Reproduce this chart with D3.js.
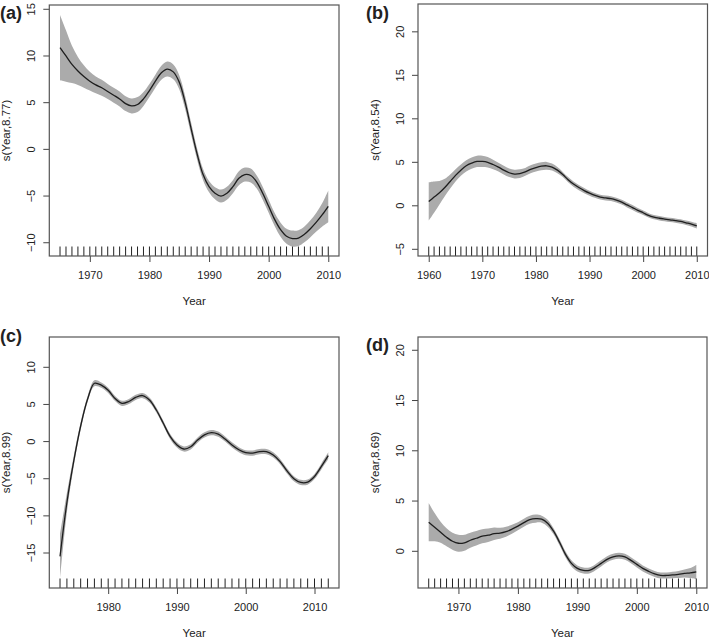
<!DOCTYPE html>
<html>
<head>
<meta charset="utf-8">
<script src="https://cdn.jsdelivr.net/npm/d3@7"></script>
<style>
  html, body { margin: 0; padding: 0; background: #fff; }
  svg { display: block; }
  text { font-family: "Liberation Sans", Arial, Helvetica, sans-serif; fill: #222; }
</style>
</head>
<body>
<svg id="chart" width="709" height="638"></svg>
<script>
// ---------------- DATA ----------------
const panelLetters = ["(a)", "(b)", "(c)", "(d)"];
const yTitles = ["s(Year,8.77)", "s(Year,8.54)", "s(Year,8.99)", "s(Year,8.69)"];

const yearsA = d3.range(1965, 2011);
const fitA = [10.9,10.0,9.1,8.4,7.8, 7.3,6.9,6.6,6.2,5.8,5.4,4.9,4.65,4.8,5.4,
  6.3,7.3,8.2,8.6,8.3,7.2,5.0,2.2,-0.5,-2.7, -4.0,-4.7,-5.0,-4.7,-4.0,-3.1,-2.7,-2.8,-3.5,-4.7,
  -6.1,-7.5,-8.6,-9.3,-9.55,-9.5,-9.1,-8.5,-7.8,-7.0, -6.1];
const ciA = [3.5,2.75,2.0,1.5,1.2, 1.0,0.9,0.85,0.8,0.8,0.8,0.8,0.8,0.8,0.75,
  0.7,0.7,0.75,0.8,0.8,0.75,0.7,0.65,0.6,0.6, 0.6,0.65,0.7,0.7,0.7,0.75,0.75,0.75,0.7,0.7,
  0.7,0.7,0.75,0.8,0.85,0.85,0.85,0.9,1.0,1.25, 1.7];

const yearsB = d3.range(1960, 2011);
const fitB = [0.5,1.0,1.5,2.1,2.8,3.5,4.1,4.6,4.9,5.1,
  5.1,5.0,4.75,4.45,4.1,3.8,3.65,3.7,3.9,4.2,
  4.4,4.55,4.6,4.45,4.1,3.6,3.0,2.5,2.1,1.75,
  1.45,1.2,1.0,0.9,0.82,0.65,0.42,0.1,-0.2,-0.52,
  -0.8,-1.1,-1.3,-1.43,-1.53,-1.62,-1.7,-1.8,-1.95,-2.1,
  -2.3];
const ciB = [2.2,1.8,1.35,1.0,0.8,0.7,0.65,0.65,0.65,0.65,
  0.65,0.6,0.55,0.5,0.5,0.5,0.5,0.5,0.45,0.45,
  0.45,0.45,0.45,0.4,0.35,0.3,0.3,0.3,0.3,0.3,
  0.28,0.28,0.28,0.28,0.28,0.28,0.28,0.28,0.28,0.28,
  0.25,0.25,0.25,0.25,0.25,0.25,0.25,0.25,0.25,0.27,
  0.3];

const yearsC = d3.range(1973, 2013);
const fitC = [-15.45,-8.2,-2.6,2.1,5.7,7.85,7.6,6.9,5.8,5.15,
  5.4,5.95,6.2,5.6,4.25,2.5,0.7,-0.45,-1.0,-0.7,
  0.2,0.9,1.2,1.0,0.35,-0.45,-1.1,-1.5,-1.55,-1.35,
  -1.35,-1.8,-2.7,-3.95,-5.0,-5.5,-5.45,-4.7,-3.35,-1.9];
const ciC = [3.0,1.3,0.7,0.5,0.4,0.4,0.35,0.35,0.35,0.35,
  0.35,0.35,0.35,0.35,0.35,0.35,0.35,0.35,0.35,0.35,
  0.35,0.35,0.35,0.35,0.35,0.35,0.35,0.35,0.35,0.35,
  0.35,0.35,0.35,0.35,0.35,0.35,0.35,0.35,0.4,0.45];

const yearsD = d3.range(1965, 2011);
const fitD = [2.9,2.4,1.9,1.4,1.0,
  0.8,0.85,1.1,1.3,1.5,1.6,1.75,1.8,1.95,2.2,
  2.5,2.85,3.15,3.25,3.2,2.8,2.0,0.9,-0.3,-1.2,
  -1.7,-1.9,-1.9,-1.6,-1.2,-0.8,-0.55,-0.45,-0.55,-0.9,
  -1.3,-1.7,-2.0,-2.25,-2.4,-2.4,-2.35,-2.3,-2.2,-2.15,
  -2.05];
const ciD = [1.9,1.4,1.05,0.9,0.85,
  0.85,0.8,0.75,0.72,0.7,0.67,0.62,0.55,0.5,0.45,
  0.4,0.4,0.4,0.4,0.35,0.35,0.3,0.3,0.3,0.3,
  0.3,0.3,0.3,0.3,0.3,0.3,0.3,0.3,0.3,0.3,
  0.3,0.3,0.3,0.3,0.3,0.3,0.32,0.35,0.4,0.5,
  0.7];

const xTicksA = [1970, 1980, 1990, 2000, 2010];
const xTicksB = [1960, 1970, 1980, 1990, 2000, 2010];
const xTicksC = [1980, 1990, 2000, 2010];
const xTicksD = [1970, 1980, 1990, 2000, 2010];
const yTicksA = [-10, -5, 0, 5, 10, 15];
const yTicksB = [-5, 0, 5, 10, 15, 20];
const yTicksC = [-15, -10, -5, 0, 5, 10];
const yTicksD = [0, 5, 10, 15, 20];

// y limits of each panel (value range shown)
const yLimA = [-11.42, 15.46];
const yLimB = [-5.77, 23.2];
const yLimC = [-19.71, 14.08];
const yLimD = [-3.65, 21.32];

// ---------------- LAYOUT ----------------
const panels = [
  { years: yearsA, fit: fitA, ci: ciA, xt: xTicksA, yt: yTicksA, ylim: yLimA,
    box: { x0: 49.3, x1: 339, y0: 5, y1: 256 }, letter: { x: 0, y: 19 } },
  { years: yearsB, fit: fitB, ci: ciB, xt: xTicksB, yt: yTicksB, ylim: yLimB,
    box: { x0: 418, x1: 707.5, y0: 4, y1: 256 }, letter: { x: 366, y: 19 } },
  { years: yearsC, fit: fitC, ci: ciC, xt: xTicksC, yt: yTicksC, ylim: yLimC,
    box: { x0: 49.3, x1: 339, y0: 337, y1: 588 }, letter: { x: 0, y: 342 } },
  { years: yearsD, fit: fitD, ci: ciD, xt: xTicksD, yt: yTicksD, ylim: yLimD,
    box: { x0: 418, x1: 707, y0: 337, y1: 588 }, letter: { x: 366, y: 351 } }
];

const svg = d3.select("#chart");

panels.forEach((p, i) => {
  const b = p.box;
  const xmin = d3.min(p.years), xmax = d3.max(p.years);
  const ext = (xmax - xmin) * 0.04;
  const x = d3.scaleLinear().domain([xmin - ext, xmax + ext]).range([b.x0, b.x1]);
  const y = d3.scaleLinear().domain(p.ylim).range([b.y1, b.y0]);

  const rows = p.years.map((yr, k) => ({ yr, f: p.fit[k], c: p.ci[k] }));
  const g = svg.append("g");

  const clipId = "clip" + i;
  svg.append("clipPath").attr("id", clipId)
    .append("rect").attr("x", b.x0).attr("y", b.y0)
    .attr("width", b.x1 - b.x0).attr("height", b.y1 - b.y0);

  const plot = g.append("g").attr("clip-path", `url(#${clipId})`);

  // confidence band
  plot.append("path")
    .datum(rows)
    .attr("fill", "#ababab")
    .attr("stroke", "none")
    .attr("d", d3.area()
      .x(d => x(d.yr))
      .y0(d => y(d.f - d.c))
      .y1(d => y(d.f + d.c))
      .curve(d3.curveCatmullRom.alpha(0.5)));

  // fitted smooth
  plot.append("path")
    .datum(rows)
    .attr("fill", "none")
    .attr("stroke", "#1e1e1e")
    .attr("stroke-width", 1.3)
    .attr("d", d3.line()
      .x(d => x(d.yr))
      .y(d => y(d.f))
      .curve(d3.curveCatmullRom.alpha(0.5)));

  // rug
  g.append("g").selectAll("line")
    .data(p.years)
    .join("line")
    .attr("x1", d => x(d)).attr("x2", d => x(d))
    .attr("y1", b.y1).attr("y2", b.y1 - 9.5)
    .attr("stroke", "#222").attr("stroke-width", 1);

  // x axis
  const xAxis = d3.axisBottom(x).tickValues(p.xt).tickSize(6).tickPadding(9)
    .tickFormat(d3.format("d"));
  const gx = g.append("g").attr("transform", `translate(0,${b.y1})`).call(xAxis);
  gx.select(".domain").remove();
  gx.selectAll(".tick line").attr("stroke", "#444");
  gx.selectAll(".tick text").attr("font-size", 11).attr("fill", "#222")
    .attr("font-family", "'Liberation Sans', Arial, sans-serif");

  // y axis (labels rotated like R's default las=0)
  const gy = g.append("g");
  gy.selectAll("line")
    .data(p.yt).join("line")
    .attr("x1", b.x0 - 6).attr("x2", b.x0)
    .attr("y1", d => y(d)).attr("y2", d => y(d))
    .attr("stroke", "#444");
  const fmt = d3.format("d");
  gy.selectAll("text")
    .data(p.yt).join("text")
    .attr("transform", d => `translate(${b.x0 - 14},${y(d)}) rotate(-90)`)
    .attr("text-anchor", "middle")
    .attr("font-size", 11)
    .text(d => fmt(d));

  // box
  g.append("rect")
    .attr("x", b.x0).attr("y", b.y0)
    .attr("width", b.x1 - b.x0).attr("height", b.y1 - b.y0)
    .attr("fill", "none").attr("stroke", "#555").attr("stroke-width", 1.2);

  // axis titles
  g.append("text")
    .attr("x", (b.x0 + b.x1) / 2).attr("y", b.y1 + 49)
    .attr("text-anchor", "middle").attr("font-size", 11.5)
    .text("Year");
  g.append("text")
    .attr("transform", `translate(${b.x0 - 39},${(b.y0 + b.y1) / 2}) rotate(-90)`)
    .attr("text-anchor", "middle").attr("font-size", 11.5)
    .text(yTitles[i]);

  // panel letter
  g.append("text")
    .attr("x", p.letter.x).attr("y", p.letter.y)
    .attr("font-size", 18).attr("font-weight", "bold").attr("fill", "#111")
    .text(panelLetters[i]);
});
</script>
</body>
</html>
